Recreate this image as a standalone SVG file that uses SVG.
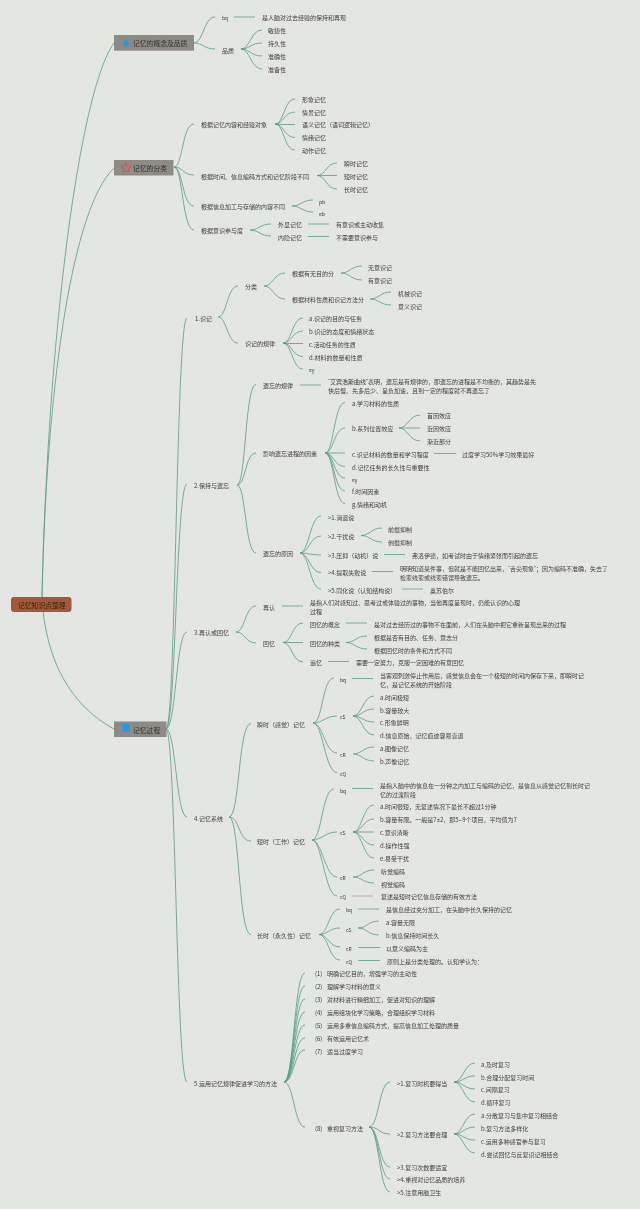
<svg xmlns="http://www.w3.org/2000/svg" width="640" height="1209" viewBox="0 0 640 1209">
<style>
text{font-family:"Noto Sans CJK SC","Noto Sans",sans-serif;font-size:6px;fill:#403f3d;dominant-baseline:central}
tspan.q{font-family:"Liberation Sans",sans-serif}
.l1{font-size:6.8px;fill:#333331}
.s{font-size:5px}
.r{font-size:6.8px;fill:#33200f}
.c{fill:none;stroke:#5a9c85;stroke-width:.8}
.d{fill:none;stroke:#6aa98f;stroke-width:.9}
.g{stroke:#a9aeaa}
.b{fill:#8e8a85}
</style>
<defs><filter id="soft" x="-5%" y="-5%" width="110%" height="110%"><feGaussianBlur stdDeviation="0.22"/></filter></defs>
<rect width="640" height="1209" fill="#e4e6e3"/>
<g filter="url(#soft)">
<g id="connectors">
<path class="c" d="M42 597C48 330 80 90 114 43"/>
<path class="c" d="M42 597C46 400 70 210 114 168"/>
<path class="c" d="M42 600C46 660 70 705 114 729"/>
<path class="c" d="M194 43C203 43 204 17 215 17M194 43C203 43 204 49 215 49"/>
<path class="d" d="M234 17H255"/>
<path class="c" d="M241 49C250 49 251 30 262 30M241 49C250 49 251 43 262 43M241 49C250 49 251 56 262 56M241 49C250 49 251 69 262 69"/>
<path class="c" d="M174 167C183 167 182 124 194 124M174 167C183 167 183 175 194 175M174 167C183 167 182 206 194 206M174 167C183 167 182 230 194 230"/>
<path class="c" d="M275 124C284 124 284 99 295 99M275 124C284 124 284 112 295 112M275 124.500H295M275 124C284 124 284 137.500 295 137.500M275 124C284 124 284 150 295 150"/>
<path class="c" d="M317 175.500C326 175.500 326 163 337 163M317 175.500H337M317 175.500C326 175.500 326 189 337 189"/>
<path class="c" d="M292 206C301 206 302 200 313 200M292 206C301 206 302 212 313 212"/>
<path class="c" d="M250 230C259 230 260 224 271 224M250 230C259 230 260 236 271 236"/>
<path class="d" d="M308 224H329M308 236.500H329"/>
<path class="c" d="M166 729C176 729 176 318 187 318M166 729C176 729 176 484 187 484M166 729C176 729 176 632 187 632M166 729C176 729 176 817 187 817M166 729C176 729 176 1082 187 1082"/>
<path class="c" d="M218 317C227 317 227 286 238 286M218 317C227 317 227 343 238 343"/>
<path class="c" d="M264 286C273 286 274 273 285 273M264 286C273 286 274 299 285 299"/>
<path class="c" d="M341 273C350 273 351 266 362 266M341 273C350 273 351 280 362 280"/>
<path class="c" d="M370 299C379 299 380 292 391 292M370 299C379 299 380 305 391 305"/>
<path class="c" d="M283 343C292 343 292 318 303 318M283 343C292 343 292 331 303 331M283 343.500H303M283 343C292 343 292 356.500 303 356.500M283 343C292 343 292 369 303 369"/>
<path class="c" d="M237 485C246 485 245 384.500 256 384.500M237 485C246 485 245 453 256 453M237 485C246 485 245 553 256 553"/>
<path class="d" d="M300 385H321"/>
<path class="c" d="M325 453C334 453 334 402.500 345 402.500M325 453C334 453 334 428 345 428M325 453H345M325 453C334 453 334 466.500 345 466.500M325 453C334 453 334 478 345 478M325 453C334 453 334 491 345 491M325 453C334 453 334 503.500 345 503.500"/>
<path class="c" d="M399 428C408 428 409 415 420 415M399 428H420M399 428C408 428 409 441 420 441"/>
<path class="d" d="M434 453.500H456"/>
<path class="c" d="M300 553C309 553 310 516 321 516M300 553C309 553 310 536 321 536M300 553C309 553 310 555 321 555M300 553C309 553 310 572.500 321 572.500M300 553C309 553 310 589 321 589"/>
<path class="c" d="M361 535.500C370 535.500 371 528 382 528M361 535.500C370 535.500 371 542 382 542"/>
<path class="d" d="M384 554.500H405M372 571.500H393M402 589H423"/>
<path class="c" d="M236 632C245 632 245 606 256 606M236 632C245 632 245 643 256 643"/>
<path class="d" d="M282 606H303"/>
<path class="c" d="M283 642.500C292 642.500 292 623 303 623M283 642.500H303M283 642.500C292 642.500 292 662 303 662"/>
<path class="d" d="M346 623H367M328 661.500H349"/>
<path class="c" d="M346 642.500C355 642.500 356 636 367 636M346 642.500C355 642.500 356 649 367 649"/>
<path class="c" d="M229 817C240 817 238 723.500 251 723.500M229 817C240 817 238 841 251 841M229 817C240 817 238 934.500 251 934.500"/>
<path class="c" d="M313 723C323 723 322 678 334 678M313 723C323 723 325 716 337 716M313 723C323 723 325 753 337 753M313 723C323 723 325 772.500 337 772.500"/>
<path class="d" d="M352 678.500H373"/>
<path class="c" d="M353 716C362 716 363 696 374 696M353 716C362 716 363 709 374 709M353 716C362 716 363 722 374 722M353 716C362 716 363 735 374 735"/>
<path class="c" d="M353 754C362 754 363 747 374 747M353 754C362 754 363 761 374 761"/>
<path class="c" d="M312 840C322 840 322 789 334 789M312 840C322 840 325 832 337 832M312 840C322 840 325 877 337 877M312 840C322 840 325 896 337 896"/>
<path class="d" d="M352 788.500H373"/>
<path class="c" d="M353 832C362 832 363 805 374 805M353 832C362 832 363 819 374 819M353 832H374M353 832C362 832 363 845 374 845M353 832C362 832 363 858 374 858"/>
<path class="c" d="M353 877C362 877 363 870 374 870M353 877C362 877 363 883 374 883"/>
<path class="d g" d="M352 896H373"/>
<path class="c" d="M319 934.500C328 934.500 329 909 340 909M319 934.500C328 934.500 329 928 340 928M319 934.500C328 934.500 329 947 340 947M319 934.500C328 934.500 329 960 340 960"/>
<path class="d" d="M358 909H379"/>
<path class="c" d="M358 928C367 928 368 921 379 921M358 928C367 928 368 935 379 935"/>
<path class="d" d="M358 947.500H380M358 960.500H380"/>
<path class="c" d="M284 1082C294 1082 294 973 305 973M284 1082C294 1082 294 986 305 986M284 1082C294 1082 294 999 305 999M284 1082C294 1082 294 1012 305 1012M284 1082C294 1082 294 1025 305 1025M284 1082C294 1082 294 1038 305 1038M284 1082C294 1082 294 1050 305 1050M284 1082C294 1082 294 1127 305 1127"/>
<path class="c" d="M369 1127C379 1127 379 1082 390 1082M369 1127C379 1127 379 1134 390 1134M369 1127C379 1127 379 1167 390 1167M369 1127C379 1127 379 1179 390 1179M369 1127C379 1127 379 1192 390 1192"/>
<path class="c" d="M454 1082C463 1082 464 1063 475 1063M454 1082C463 1082 464 1076 475 1076M454 1082C463 1082 464 1089 475 1089M454 1082C463 1082 464 1102 475 1102"/>
<path class="c" d="M454 1134C463 1134 464 1114 475 1114M454 1134C463 1134 464 1127 475 1127M454 1134C463 1134 464 1140 475 1140M454 1134C463 1134 464 1153 475 1153"/>
</g>
<g id="root"><rect x="11" y="597" width="60.500" height="15" rx="3" fill="#a4583a"/><text class="r" x="18" y="604.500">记忆知识点整理</text></g>
<g id="topic-concept"><rect class="b" x="114" y="35" width="80" height="15.700"/><path d="M126 39L130 43.500H128.500V46.500H123.500V43.500H122Z" fill="#2f97d8"/><text class="l1" x="133" y="43">记忆的概念及品质</text></g>
<g id="topic-class"><rect class="b" x="114" y="160" width="59.500" height="15.500"/><path d="M126 162.500L127.500 165.800L131 166.200L128.400 168.500L129.100 172L126 170.300L122.900 172L123.600 168.500L121 166.200L124.500 165.800Z" fill="none" stroke="#d9504a" stroke-width="1"/><text class="l1" x="133" y="168">记忆的分类</text></g>
<g id="topic-process"><rect class="b" x="114" y="721.500" width="52.500" height="15.500"/><rect x="122" y="724" width="7.500" height="8" fill="#2f97d8"/><text class="l1" x="133" y="730">记忆过程</text></g>
<g id="nodes-a">
<g id="n1"><text class="s" x="222" y="17.500">bq</text><text x="262" y="17.500">是人脑对过去经验的保持和再现</text></g>
<g id="n2"><text x="222" y="50">品质</text><text x="268" y="30.500">敏捷性</text><text x="268" y="43.500">持久性</text><text x="268" y="56">准确性</text><text x="268" y="69">准备性</text></g>
<g id="n3"><text x="201" y="124.500">根据记忆内容和经验对象</text><text x="302" y="99">形象记忆</text><text x="302" y="112">情景记忆</text><text x="302" y="124.500">语义记忆（语词逻辑记忆）</text><text x="302" y="137.500">情绪记忆</text><text x="302" y="150.500">动作记忆</text></g>
<g id="n4"><text x="201" y="176">根据时间、信息编码方式和记忆阶段不同</text><text x="344" y="163.500">瞬时记忆</text><text x="344" y="176">短时记忆</text><text x="344" y="189">长时记忆</text></g>
<g id="n5"><text x="201" y="206.500">根据信息加工与存储的内容不同</text><text class="s" x="319" y="201">pb</text><text class="s" x="319" y="213">eb</text></g>
<g id="n6"><text x="201" y="230.500">根据意识参与度</text><text x="278" y="224.500">外显记忆</text><text x="336" y="224.500">有意识或主动收集</text><text x="278" y="237">内隐记忆</text><text x="336" y="237">不需要意识参与</text></g>
<g id="n7"><text x="195" y="318">1.识记</text><text x="245" y="286.500">分类</text><text x="292" y="273.500">根据有无目的分</text><text x="368" y="267">无意识记</text><text x="368" y="280">有意识记</text><text x="292" y="299">根据材料性质和识记方法分</text><text x="398" y="293">机械识记</text><text x="398" y="306">意义识记</text></g>
<g id="n8"><text x="245" y="343.500">识记的规律</text><text x="309" y="318.500">a.识记的目的与任务</text><text x="309" y="331.500">b.识记的态度和情绪状态</text><text x="309" y="344">c.活动任务的性质</text><text x="309" y="357">d.材料的数量和性质</text><text class="s" x="309" y="369.500">ey</text></g>
<g id="n9"><text x="194" y="485.500">2.保持与遗忘</text><text x="263" y="385.500">遗忘的规律</text><text x="328" y="381"><tspan class="q">“</tspan>艾宾浩斯曲线<tspan class="q">”</tspan>表明，遗忘是有规律的，即遗忘的进程是不均衡的，其趋势是先</text><text x="328" y="390">快后慢、先多后少、呈负加速，且到一定的程度就不再遗忘了</text></g>
<g id="n10"><text x="263" y="453">影响遗忘进程的因素</text><text x="352" y="403">a.学习材料的性质</text><text x="352" y="428">b.系列位置效应</text><text x="427" y="415.500">首因效应</text><text x="427" y="428">近因效应</text><text x="427" y="441">渐近部分</text><text x="352" y="454">c.识记材料的数量和学习程度</text><text x="462" y="454">过度学习50%学习效果最好</text><text x="352" y="467">d.记忆任务的长久性与重要性</text><text class="s" x="352" y="479">ey</text><text x="352" y="491">f.时间因素</text><text x="352" y="504">g.情绪和动机</text></g>
<g id="n11"><text x="263" y="553">遗忘的原因</text><text x="328" y="517">&gt;1.消退说</text><text x="328" y="536">&gt;2.干扰说</text><text x="388" y="529.500">前摄抑制</text><text x="388" y="542">倒摄抑制</text><text x="328" y="555">&gt;3.压抑（动机）说</text><text x="412" y="555">弗洛伊德，如考试时由于情绪紧张而引起的遗忘</text><text x="328" y="572.500">&gt;4.提取失败说</text><text x="400" y="568">明明知道某件事，但就是不能回忆出来，<tspan class="q">“</tspan>舌尖现象<tspan class="q">”</tspan>；因为编码不准确，失去了</text><text x="400" y="577">检索线索或线索错误导致遗忘。</text><text x="328" y="590">&gt;5.同化说（认知结构说）</text><text x="430" y="590">奥苏伯尔</text></g>
<g id="n12"><text x="194" y="632.500">3.再认或回忆</text><text x="263" y="607">再认</text><text x="310" y="602">是指人们对感知过、思考过或体验过的事物，当他再度呈现时，仍能认识的心理</text><text x="310" y="611">过程</text><text x="263" y="643">回忆</text><text x="310" y="624">回忆的概念</text><text x="374" y="624">是对过去经历过的事物不在面前，人们在头脑中把它重新呈现出来的过程</text><text x="310" y="643">回忆的种类</text><text x="374" y="637">根据是否有目的、任务、意志分</text><text x="374" y="650">根据回忆时的条件和方式不同</text><text x="310" y="662.500">追忆</text><text x="356" y="662.500">需要一定努力，克服一定困难的有意回忆</text></g>
<g id="n13"><text x="194" y="818">4.记忆系统</text><text x="257" y="724">瞬时（感觉）记忆</text><text class="s" x="340" y="679.500">bq</text><text x="380" y="675.500">当客观刺激停止作用后，感觉信息会在一个极短的时间内保存下来，即瞬时记</text><text x="380" y="684">忆，是记忆系统的开始阶段</text><text class="s" x="340" y="716">cS</text><text x="380" y="697">a.时间极短</text><text x="380" y="710">b.容量较大</text><text x="380" y="722.500">c.形象鲜明</text><text x="380" y="735.500">d.信息原始，记忆痕迹容易衰退</text><text class="s" x="340" y="754.500">cR</text><text x="380" y="748">a.图像记忆</text><text x="380" y="761">b.声像记忆</text><text class="s" x="340" y="773">cQ</text></g>
<g id="n14"><text x="257" y="841">短时（工作）记忆</text><text class="s" x="340" y="790">bq</text><text x="380" y="785">是指人脑中的信息在一分钟之内加工与编码的记忆，是信息从感觉记忆到长时记</text><text x="380" y="794">忆的过渡阶段</text><text class="s" x="340" y="832">cS</text><text x="380" y="806.500">a.时间很短，无复述情况下最长不超过1分钟</text><text x="380" y="819.500">b.容量有限。一般是7<tspan class="q">±</tspan>2，即5<tspan class="q">~</tspan>9个项目，平均值为7</text><text x="380" y="832">c.意识清晰</text><text x="380" y="845">d.操作性强</text><text x="380" y="858">e.易受干扰</text><text class="s" x="340" y="877">cR</text><text x="381" y="871">听觉编码</text><text x="381" y="884">视觉编码</text><text class="s" x="340" y="896.500">cQ</text><text x="381" y="896.500">复述是短时记忆信息存储的有效方法</text></g>
<g id="n15"><text x="257" y="935">长时（永久性）记忆</text><text class="s" x="346" y="909.500">bq</text><text x="386" y="909.500">是信息经过充分加工，在头脑中长久保持的记忆</text><text class="s" x="346" y="929">cS</text><text x="386" y="922.500">a.容量无限</text><text x="386" y="935">b.信息保持时间长久</text><text class="s" x="346" y="948">cR</text><text x="386" y="948">以意义编码为主</text><text class="s" x="346" y="961">cQ</text><text x="387" y="961">原则上是分类处理的。认知学认为：</text></g>
<g id="n16"><text x="194" y="1083">5.运用记忆规律促进学习的方法</text><text x="315" y="973.500">(1)</text><text x="327" y="973.500">明确记忆目的，增强学习的主动性</text><text x="315" y="986.500">(2)</text><text x="327" y="986.500">理解学习材料的意义</text><text x="315" y="999">(3)</text><text x="327" y="999">对材料进行精细加工，促进对知识的理解</text><text x="315" y="1012">(4)</text><text x="327" y="1012">运用组块化学习策略，合理组织学习材料</text><text x="315" y="1025">(5)</text><text x="327" y="1025">运用多重信息编码方式，提高信息加工处理的质量</text><text x="315" y="1038">(6)</text><text x="327" y="1038">有效运用记忆术</text><text x="315" y="1051">(7)</text><text x="327" y="1051">适当过度学习</text><text x="315" y="1128">(8)</text><text x="327" y="1128">重视复习方法</text></g>
<g id="n17"><text x="397" y="1083">&gt;1.复习时机要得当</text><text x="481" y="1064">a.及时复习</text><text x="481" y="1077">b.合理分配复习时间</text><text x="481" y="1089.500">c.间隔复习</text><text x="481" y="1102">d.循环复习</text><text x="397" y="1134.500">&gt;2.复习方法要合理</text><text x="481" y="1115">a.分散复习与集中复习相结合</text><text x="481" y="1128">b.复习方法多样化</text><text x="481" y="1141">c.运用多种感官参与复习</text><text x="481" y="1154">d.尝试回忆与反复识记相结合</text><text x="397" y="1167">&gt;3.复习次数要适宜</text><text x="397" y="1179.500">&gt;4.重视对记忆品质的培养</text><text x="397" y="1192">&gt;5.注意用脑卫生</text></g>
</g>
</g>
</svg>
